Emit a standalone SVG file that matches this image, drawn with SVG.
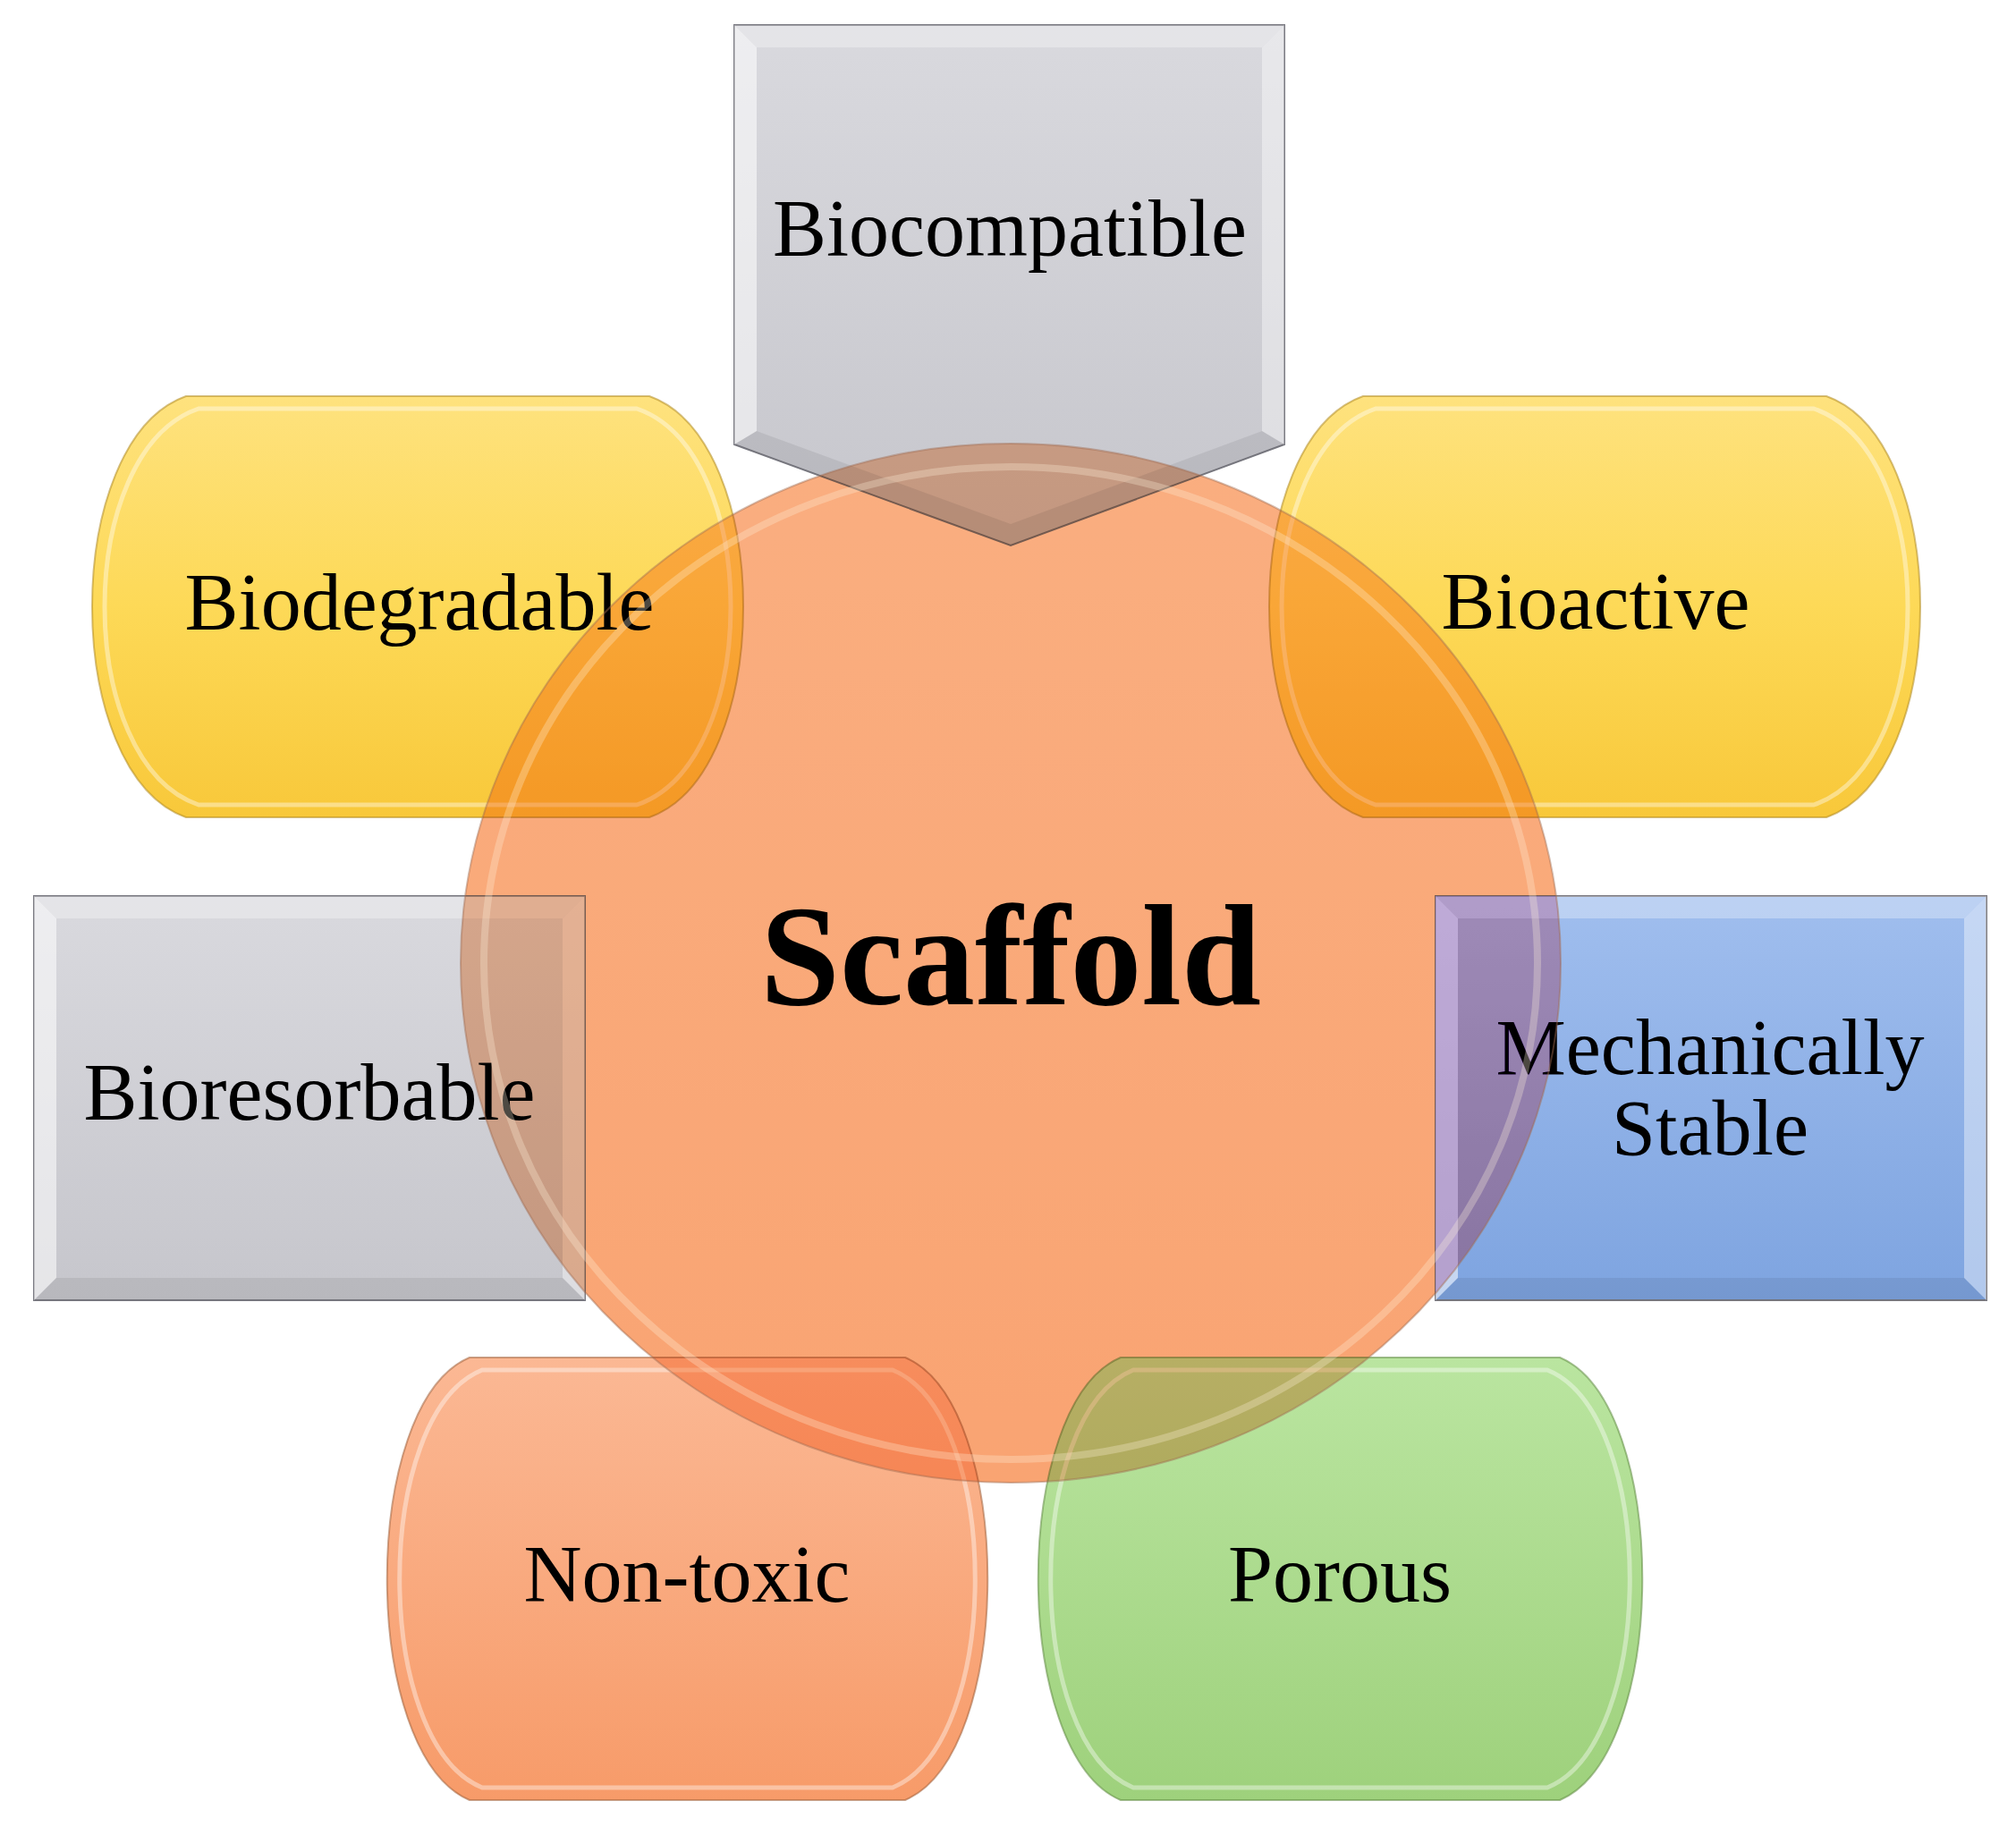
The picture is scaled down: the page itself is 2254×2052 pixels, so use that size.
<svg xmlns="http://www.w3.org/2000/svg" width="2254" height="2052" viewBox="0 0 2254 2052">
<defs>
<linearGradient id="gYellow" x1="0" y1="0" x2="0" y2="1">
<stop offset="0" stop-color="#FEE27E"/><stop offset="0.5" stop-color="#FDD957"/><stop offset="1" stop-color="#F8C83A"/>
</linearGradient>
<linearGradient id="gGrey" x1="0" y1="0" x2="0" y2="1">
<stop offset="0" stop-color="#D9D9DE"/><stop offset="1" stop-color="#C6C6CC"/>
</linearGradient>
<linearGradient id="gBlue" x1="0" y1="0" x2="0" y2="1">
<stop offset="0" stop-color="#A0BEEE"/><stop offset="1" stop-color="#7EA4E0"/>
</linearGradient>
<linearGradient id="gOrange" x1="0" y1="0" x2="0" y2="1">
<stop offset="0" stop-color="#FBB894"/><stop offset="1" stop-color="#F79B69"/>
</linearGradient>
<linearGradient id="gGreen" x1="0" y1="0" x2="0" y2="1">
<stop offset="0" stop-color="#BAE5A0"/><stop offset="1" stop-color="#9ED17C"/>
</linearGradient>
<linearGradient id="gCircleBase" x1="0" y1="0" x2="0" y2="1">
<stop offset="0" stop-color="#FEE4CC"/><stop offset="1" stop-color="#FDD6B6"/>
</linearGradient>
<clipPath id="clipBlue"><rect x="1605" y="1002" width="616" height="452"/></clipPath>
</defs>
<style>
.lbl{font-family:"Liberation Serif","Times New Roman",serif;font-size:90px;fill:#000;text-anchor:middle}
.title{font-family:"Liberation Serif","Times New Roman",serif;font-size:160px;font-weight:bold;fill:#000;text-anchor:middle}
.cap{stroke-width:2;stroke-opacity:0.55}
.hl{fill:none;stroke:#fff;stroke-width:5;stroke-opacity:0.4}
.bevL{fill:#fff;fill-opacity:0.55}
.bevT{fill:#fff;fill-opacity:0.3}
.bevR{fill:#fff;fill-opacity:0.4}
.bevB{fill:#000;fill-opacity:0.07}
.frame{stroke:#7A7A82;stroke-width:2}
.mul{mix-blend-mode:multiply}
.tint{mix-blend-mode:color}
</style>
<rect width="2254" height="2052" fill="#fff"/>

<g id="scaffold-base">
<ellipse cx="1130" cy="1077" rx="615" ry="581" fill="url(#gCircleBase)"/>
</g>

<g id="biocompatible">
<path class="frame" d="M821,28 L1436,28 L1436,497 L1130,610 L821,497 Z" fill="url(#gGrey)"/>
<path class="bevL" d="M821,28 L846,53 L846,482 L821,497 Z"/>
<path class="bevT" d="M821,28 L1436,28 L1411,53 L846,53 Z"/>
<path class="bevR" d="M1436,28 L1436,497 L1411,482 L1411,53 Z"/>
<path class="bevB" d="M821,497 L846,482 L1130,586 L1411,482 L1436,497 L1130,610 Z"/>
<text class="lbl" x="1129" y="286">Biocompatible</text>
</g>

<g id="bioresorbable">
<rect class="frame" x="38" y="1002" width="616" height="452" fill="url(#gGrey)"/>
<path class="bevL" d="M38,1002 L63,1027 L63,1429 L38,1454 Z"/>
<path class="bevT" d="M38,1002 L654,1002 L629,1027 L63,1027 Z"/>
<path class="bevR" d="M654,1002 L654,1454 L629,1429 L629,1027 Z"/>
<path class="bevB" d="M38,1454 L63,1429 L629,1429 L654,1454 Z"/>
<text class="lbl" x="346" y="1252">Bioresorbable</text>
</g>

<g id="mechanically-stable">
<rect class="frame" x="1605" y="1002" width="616" height="452" fill="url(#gBlue)" stroke="#5A78A8"/>
<path class="bevL" d="M1605,1002 L1630,1027 L1630,1429 L1605,1454 Z"/>
<path class="bevT" d="M1605,1002 L2221,1002 L2196,1027 L1630,1027 Z"/>
<path class="bevR" d="M2221,1002 L2221,1454 L2196,1429 L2196,1027 Z"/>
<path class="bevB" d="M1605,1454 L1630,1429 L2196,1429 L2221,1454 Z"/>
<text class="lbl" x="1912" y="1201" style="font-size:88px">Mechanically</text>
<text class="lbl" x="1912" y="1291" style="font-size:88px">Stable</text>
</g>

<g id="biodegradable">
<path class="cap" d="M208,443 L726,443 C866,493 866,864 726,914 L208,914 C68,864 68,493 208,443 Z" fill="url(#gYellow)" stroke="#B08A20"/>
<path class="hl" d="M222,457 L712,457 C852,505 852,852 712,900 L222,900 C82,852 82,505 222,457 Z"/>
<text class="lbl" x="469" y="704">Biodegradable</text>
</g>

<g id="bioactive">
<path class="cap" d="M1524,443 L2042,443 C2182,493 2182,864 2042,914 L1524,914 C1384,864 1384,493 1524,443 Z" fill="url(#gYellow)" stroke="#B08A20"/>
<path class="hl" d="M1538,457 L2028,457 C2168,505 2168,852 2028,900 L1538,900 C1398,852 1398,505 1538,457 Z"/>
<text class="lbl" x="1784" y="703">Bioactive</text>
</g>

<g id="non-toxic">
<path class="cap" d="M525,1518 L1012,1518 C1135,1570 1135,1961 1012,2013 L525,2013 C402,1961 402,1570 525,1518 Z" fill="url(#gOrange)" stroke="#A0603A"/>
<path class="hl" d="M539,1532 L998,1532 C1121,1582 1121,1949 998,1999 L539,1999 C416,1949 416,1582 539,1532 Z"/>
<text class="lbl" x="768" y="1791">Non-toxic</text>
</g>

<g id="porous">
<path class="cap" d="M1253,1518 L1744,1518 C1867,1570 1867,1961 1744,2013 L1253,2013 C1130,1961 1130,1570 1253,1518 Z" fill="url(#gGreen)" stroke="#5E8A40"/>
<path class="hl" d="M1267,1532 L1730,1532 C1853,1582 1853,1949 1730,1999 L1267,1999 C1144,1949 1144,1582 1267,1532 Z"/>
<text class="lbl" x="1498" y="1791">Porous</text>
</g>

<g id="scaffold">
<ellipse class="mul" cx="1130" cy="1077" rx="615" ry="581" fill="#FBC3A0"/>
<ellipse class="tint" cx="1130" cy="1077" rx="615" ry="581" fill="#A08CB9" clip-path="url(#clipBlue)"/>
<ellipse cx="1130" cy="1077" rx="589" ry="555" fill="none" stroke="#FFF3DC" stroke-width="8" stroke-opacity="0.3"/>
<ellipse cx="1130" cy="1077" rx="615" ry="581" fill="none" stroke="#A06A50" stroke-width="2" stroke-opacity="0.45"/>
<text class="title" x="1130" y="1123">Scaffold</text>
</g>

<g id="connectors"></g>
</svg>
